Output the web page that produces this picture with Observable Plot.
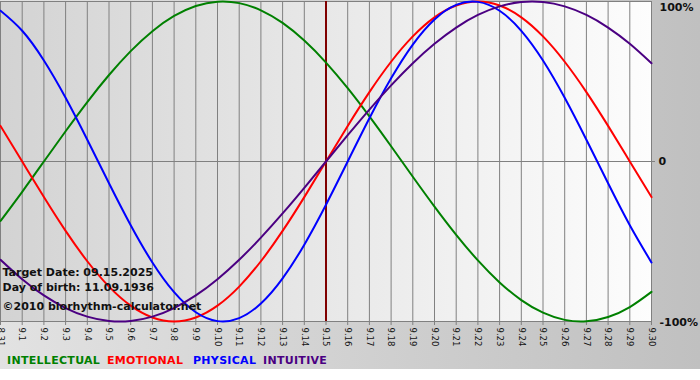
<!DOCTYPE html>
<html><head><meta charset="utf-8">
<script src="https://cdn.jsdelivr.net/npm/d3@7"></script>
<script src="https://cdn.jsdelivr.net/npm/@observablehq/plot@0.6"></script>
<style>
body{margin:0;background:#fff;}
#wrap{position:relative;width:700px;height:369px;background:linear-gradient(to right,#e2e2e2,#c0c0c0);overflow:hidden;}
#chart{position:absolute;left:0;top:0;}
#legend span{position:absolute;top:354px;font:bold 11px "DejaVu Sans",sans-serif;letter-spacing:0.3px;white-space:nowrap;}
</style></head><body>
<svg width="0" height="0" style="position:absolute"><defs><linearGradient id="plotbg" x1="0" x2="1" y1="0" y2="0"><stop offset="0" stop-color="#d3d3d3"/><stop offset="1" stop-color="#fdfdfd"/></linearGradient></defs></svg>
<div id="wrap"><div id="chart"></div><div id="legend"></div></div>
<script>
const dayLabels = ["8.31","9.1","9.2","9.3","9.4","9.5","9.6","9.7","9.8","9.9","9.10","9.11","9.12","9.13","9.14","9.15","9.16","9.17","9.18","9.19","9.20","9.21","9.22","9.23","9.24","9.25","9.26","9.27","9.28","9.29","9.30"];
const intellectual = [-0.3717,-0.1893,0,0.1893,0.3717,0.5406,0.6901,0.8146,0.9096,0.9718,0.9989,0.9898,0.9450,0.8660,0.7557,0.6182,0.4582,0.2817,0.0951,-0.0951,-0.2817,-0.4582,-0.6182,-0.7557,-0.8660,-0.9450,-0.9898,-0.9989,-0.9718,-0.9096,-0.8146];
const emotional = [0.2225,0,-0.2225,-0.4339,-0.6235,-0.7818,-0.9010,-0.9749,-1,-0.9749,-0.9010,-0.7818,-0.6235,-0.4339,-0.2225,0,0.2225,0.4339,0.6235,0.7818,0.9010,0.9749,1,0.9749,0.9010,0.7818,0.6235,0.4339,0.2225,0,-0.2225];
const physical = [0.9423,0.8170,0.6313,0.3984,0.1362,-0.1362,-0.3984,-0.6313,-0.8170,-0.9423,-0.9977,-0.9791,-0.8879,-0.7308,-0.5196,-0.2698,0,0.2698,0.5196,0.7308,0.8879,0.9791,0.9977,0.9423,0.8170,0.6313,0.3984,0.1362,-0.1362,-0.3984,-0.6313];
const intuitive = [-0.6142,-0.7357,-0.8372,-0.9158,-0.9694,-0.9966,-0.9966,-0.9694,-0.9158,-0.8372,-0.7357,-0.6142,-0.4759,-0.3247,-0.1646,0,0.1646,0.3247,0.4759,0.6142,0.7357,0.8372,0.9158,0.9694,0.9966,0.9966,0.9694,0.9158,0.8372,0.7357,0.6142];
const seriesNames = ["INTELLECTUAL","EMOTIONAL","PHYSICAL","INTUITIVE"];
const seriesColors = ["#008000","#ff0000","#0000ff","#4b0082"];
const targetDay = "9.15";
const infoLines = ["Target Date: 09.15.2025","Day of birth: 11.09.1936"];
const copyright = "©2010 biorhythm-calculator.net";
const yTickValues = [1,0,-1];
const yTickLabels = ["100%","0","-100%"];

const seriesValues = [intellectual, emotional, physical, intuitive];
const dayIdx = dayLabels.map((_, i) => i);
const rows = [];
seriesNames.forEach((name, s) => seriesValues[s].forEach((v, i) => rows.push({day: i, value: v, series: name})));
const targetIdx = dayLabels.indexOf(targetDay);
const yFmt = v => yTickLabels[yTickValues.indexOf(v)];

const plot = Plot.plot({
  width: 700, height: 352,
  marginLeft: 0, marginRight: 49, marginTop: 1, marginBottom: 31,
  style: {background: "transparent", overflow: "visible", fontFamily: "DejaVu Sans"},
  x: {domain: [0, dayLabels.length - 1], label: null},
  y: {domain: [-1, 1], label: null},
  color: {domain: seriesNames, range: seriesColors},
  marks: [
    Plot.frame({fill: "url(#plotbg)", stroke: "#808080"}),
    Plot.ruleX(dayIdx, {stroke: "#808080"}),
    Plot.ruleY([0], {stroke: "#808080"}),
    Plot.axisX(dayIdx, {anchor: "bottom", label: null, tickSize: 4, tickPadding: 2, tickRotate: 90, tickFormat: i => dayLabels[i], fontSize: 8.5, stroke: "#808080", fill: "#111"}),
    Plot.axisY([yTickValues[0]], {anchor: "right", label: null, tickSize: 0, tickPadding: 8, tickFormat: yFmt, dy: 6, fontSize: 11, fontWeight: "bold", fill: "#111"}),
    Plot.axisY([yTickValues[1]], {anchor: "right", label: null, tickSize: 3, tickPadding: 4, tickFormat: yFmt, fontSize: 11, fontWeight: "bold", stroke: "#808080", fill: "#111"}),
    Plot.axisY([yTickValues[2]], {anchor: "right", label: null, tickSize: 0, tickPadding: 8, tickFormat: yFmt, dy: 1, fontSize: 11, fontWeight: "bold", fill: "#111"}),
    Plot.ruleX([targetIdx], {stroke: "#800000", strokeWidth: 2}),
    Plot.line(rows, {x: "day", y: "value", z: "series", stroke: "series", strokeWidth: 2, curve: "natural"}),
    Plot.text([infoLines.join("\n")], {frameAnchor: "bottom-left", lineAnchor: "bottom", dx: 2, dy: -31, lineHeight: 1.36, fontSize: 11, fontWeight: "bold", fill: "#111"}),
    Plot.text([copyright], {frameAnchor: "bottom-left", lineAnchor: "bottom", dx: 2, dy: -12, fontSize: 11, fontWeight: "bold", fill: "#111"})
  ]
});
document.getElementById("chart").appendChild(plot);

const legendLefts = [7, 107, 193, 263];
const legend = document.getElementById("legend");
seriesNames.forEach((name, i) => {
  const s = document.createElement("span");
  s.textContent = name;
  s.style.left = legendLefts[i] + "px";
  s.style.color = seriesColors[i];
  legend.appendChild(s);
});
</script>
</body></html>
